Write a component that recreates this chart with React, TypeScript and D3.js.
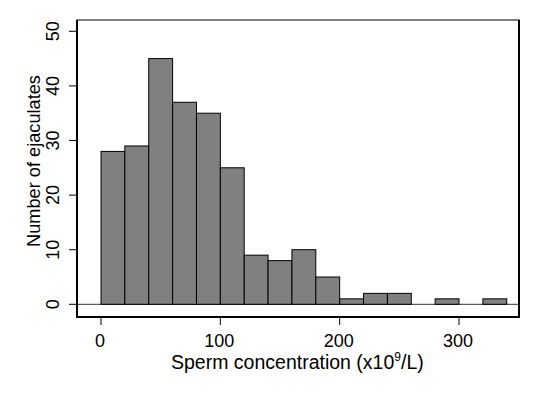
import React from "react";
import * as d3 from "d3";

const binStarts = [0, 20, 40, 60, 80, 100, 120, 140, 160, 180, 200, 220, 240, 260, 280, 300, 320];
const counts = [28, 29, 45, 37, 35, 25, 9, 8, 10, 5, 1, 2, 2, 0, 1, 0, 1];
const binWidth = 20;
const xTicks = [0, 100, 200, 300];
const yTicks = [0, 10, 20, 30, 40, 50];

const W = 537, H = 393;
const box = { left: 77, top: 20, right: 519, bottom: 317 };

export default function App() {
  const x = d3.scaleLinear().domain([0, 300]).range([101, 459]);
  const y = d3.scaleLinear().domain([0, 50]).range([304.3, 31.3]);
  const font = "'Liberation Sans', Arial, sans-serif";
  return (
    <svg width={W} height={H} style={{ position: "absolute", left: 0, top: 0, background: "#fff" }} fontFamily={font}>
      <rect x={0} y={0} width={W} height={H} fill="#fff" />
      <line x1={box.left} x2={box.right} y1={y(0)} y2={y(0)} stroke="#333" strokeWidth={1} />
      {binStarts.map((s, i) =>
        counts[i] > 0 ? (
          <rect key={i} x={x(s)} y={y(counts[i])} width={x(s + binWidth) - x(s)} height={y(0) - y(counts[i])}
            fill="#808080" stroke="#000" strokeWidth={1} />
        ) : null
      )}
      <rect x={box.left} y={box.top} width={box.right - box.left} height={box.bottom - box.top} fill="none" stroke="#000" strokeWidth={1} />
      <line x1={box.left} x2={box.left} y1={box.top} y2={box.bottom + 1} stroke="#000" strokeWidth={2} />
      <line x1={box.left - 1} x2={box.right + 1} y1={box.bottom} y2={box.bottom} stroke="#000" strokeWidth={2} />
      <line x1={box.right} x2={box.right} y1={box.top} y2={box.bottom} stroke="#000" strokeWidth={2} />
      {yTicks.map((t) => (
        <g key={t}>
          <line x1={box.left - 8} x2={box.left} y1={y(t)} y2={y(t)} stroke="#000" strokeWidth={1} />
          <text transform={`translate(59,${y(t)}) rotate(-90)`} textAnchor="middle" fontSize={18}>{t}</text>
        </g>
      ))}
      {xTicks.map((t) => (
        <g key={t}>
          <line x1={x(t)} x2={x(t)} y1={box.bottom} y2={box.bottom + 8} stroke="#000" strokeWidth={1} />
          <text x={x(t) - 1} y={347} textAnchor="middle" fontSize={18}>{t}</text>
        </g>
      ))}
      <text x={171} y={368.5} textAnchor="start" fontSize={19.5}>
        Sperm concentration (x10<tspan dy={-8} fontSize={12}>9</tspan><tspan dy={8}>/L)</tspan>
      </text>
      <text transform={`translate(40,${161}) rotate(-90)`} textAnchor="middle" fontSize={18.2}>Number of ejaculates</text>
    </svg>
  );
}
